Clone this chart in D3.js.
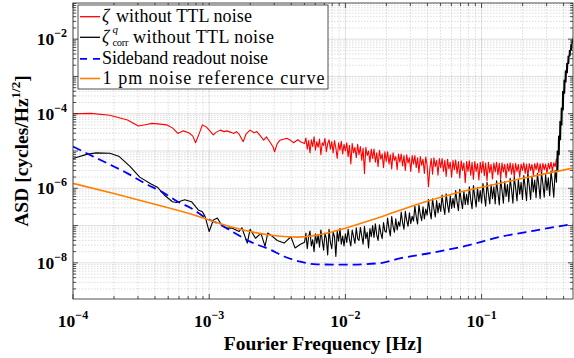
<!DOCTYPE html>
<html>
<head>
<meta charset="utf-8">
<script src="https://cdn.jsdelivr.net/npm/d3@7"></script>
<style>
body { margin: 0; background: #fff; }
svg { display: block; }
</style>
</head>
<body>
<script>
// all values are log10: frequency [Hz] and ASD [cycles/Hz^1/2]

// red: zeta without TTL noise, low frequency part
const redFreqLow = [-4.00,-3.87,-3.73,-3.60,-3.52,-3.46,-3.42,-3.36,-3.31,-3.27,-3.23,-3.19,-3.15,-3.12,-3.10,-3.07,-3.05,-3.02,-3.00,-2.97,-2.95,-2.92,-2.89,-2.87,-2.84,-2.82,-2.80,-2.78,-2.75,-2.73,-2.70,-2.67,-2.65,-2.63,-2.60,-2.58,-2.55,-2.53,-2.52,-2.50,-2.48,-2.45,-2.43,-2.40,-2.38,-2.35,-2.33];
const redAsdLow = [-4.00,-3.99,-4.04,-4.17,-4.33,-4.29,-4.26,-4.28,-4.30,-4.38,-4.53,-4.46,-4.51,-4.60,-4.78,-4.50,-4.30,-4.36,-4.44,-4.57,-4.50,-4.44,-4.48,-4.46,-4.50,-4.53,-4.48,-4.55,-4.75,-4.55,-4.44,-4.51,-4.48,-4.57,-4.71,-4.62,-4.78,-4.90,-5.02,-4.80,-4.71,-4.68,-4.66,-4.72,-4.78,-4.70,-4.75];

// black: zeta^q_corr without TTL noise, low frequency part
const blackFreqLow = [-4.00,-3.90,-3.83,-3.73,-3.66,-3.58,-3.51,-3.43,-3.38,-3.33,-3.27,-3.24,-3.18,-3.13,-3.08,-3.05,-3.03,-3.00,-2.97,-2.94,-2.91,-2.87,-2.83,-2.78,-2.76,-2.72,-2.70,-2.66,-2.62,-2.59,-2.57,-2.55,-2.50,-2.45,-2.40,-2.37,-2.33];
const blackAsdLow = [-5.20,-5.09,-5.05,-5.06,-5.15,-5.42,-5.70,-5.88,-5.97,-6.18,-6.36,-6.38,-6.31,-6.36,-6.58,-6.63,-6.76,-7.16,-6.85,-6.80,-6.98,-7.07,-7.07,-7.16,-7.06,-7.47,-7.10,-7.34,-7.21,-7.56,-7.20,-7.25,-7.40,-7.47,-7.30,-7.60,-7.50];

// shared frequency bins of the noisy high frequency part
const fineFreq = [
  -2.30,-2.29,-2.28,-2.27,-2.26,-2.25,-2.24,-2.23,-2.22,-2.21,
  -2.20,-2.19,-2.18,-2.17,-2.16,-2.15,-2.14,-2.13,-2.12,-2.11,
  -2.10,-2.09,-2.08,-2.07,-2.06,-2.05,-2.04,-2.03,-2.02,-2.01,
  -2.00,-1.99,-1.98,-1.97,-1.96,-1.95,-1.94,-1.93,-1.92,-1.91,
  -1.90,-1.89,-1.88,-1.87,-1.86,-1.85,-1.84,-1.83,-1.82,-1.81,
  -1.80,-1.79,-1.78,-1.77,-1.76,-1.75,-1.74,-1.73,-1.72,-1.71,
  -1.70,-1.69,-1.68,-1.67,-1.66,-1.65,-1.64,-1.63,-1.62,-1.61,
  -1.60,-1.59,-1.58,-1.57,-1.56,-1.55,-1.54,-1.53,-1.52,-1.51,
  -1.50,-1.49,-1.48,-1.47,-1.46,-1.45,-1.44,-1.43,-1.42,-1.41,
  -1.40,-1.39,-1.38,-1.37,-1.36,-1.35,-1.34,-1.33,-1.32,-1.31,
  -1.30,-1.29,-1.28,-1.27,-1.26,-1.25,-1.24,-1.23,-1.22,-1.21,
  -1.20,-1.19,-1.18,-1.17,-1.16,-1.15,-1.14,-1.13,-1.12,-1.11,
  -1.10,-1.09,-1.08,-1.07,-1.06,-1.05,-1.04,-1.03,-1.02,-1.01,
  -1.00,-0.99,-0.98,-0.97,-0.96,-0.95,-0.94,-0.93,-0.92,-0.91,
  -0.90,-0.89,-0.88,-0.87,-0.86,-0.85,-0.84,-0.83,-0.82,-0.81,
  -0.80,-0.79,-0.78,-0.77,-0.76,-0.75,-0.74,-0.73,-0.72,-0.71,
  -0.70,-0.69,-0.68,-0.67,-0.66,-0.65,-0.64,-0.63,-0.62,-0.61,
  -0.60,-0.59,-0.58,-0.57,-0.56,-0.55,-0.54,-0.53,-0.52,-0.51,
  -0.50,-0.49,-0.48,-0.47,-0.46,-0.45];

const redAsdFine = [
  -4.80,-4.65,-4.95,-4.72,-5.05,-4.70,-4.88,-4.62,-4.98,-4.75,
  -4.90,-4.68,-5.10,-4.78,-4.85,-4.66,-5.02,-4.80,-4.70,-4.95,
  -4.75,-5.05,-4.72,-4.92,-5.20,-4.78,-4.98,-4.74,-5.08,-4.82,
  -5.00,-4.78,-5.15,-4.85,-5.35,-4.80,-5.05,-4.90,-5.18,-4.82,
  -5.10,-4.88,-5.25,-4.92,-5.60,-4.90,-5.12,-5.00,-5.30,-4.95,
  -5.20,-4.95,-5.30,-5.05,-5.42,-4.98,-5.22,-5.08,-5.45,-5.02,
  -5.28,-5.02,-5.35,-5.10,-5.48,-5.05,-5.25,-5.15,-5.50,-5.08,
  -5.30,-5.08,-5.40,-5.12,-5.52,-5.10,-5.32,-5.18,-5.55,-5.12,
  -5.35,-5.12,-5.45,-5.18,-5.58,-5.15,-5.38,-5.22,-5.60,-5.16,
  -5.38,-5.96,-5.48,-5.20,-5.62,-5.18,-5.42,-5.25,-5.65,-5.20,
  -5.45,-5.20,-5.55,-5.25,-5.68,-5.22,-5.48,-5.30,-5.70,-5.25,
  -5.50,-5.24,-5.60,-5.28,-5.72,-5.26,-5.52,-5.32,-5.85,-5.28,
  -5.55,-5.26,-5.65,-5.30,-5.76,-5.28,-5.55,-5.34,-5.78,-5.30,
  -5.58,-5.28,-5.66,-5.32,-5.80,-5.30,-5.58,-5.36,-5.75,-5.32,
  -5.56,-5.30,-5.64,-5.33,-5.74,-5.32,-5.56,-5.36,-5.72,-5.34,
  -5.55,-5.32,-5.62,-5.34,-5.70,-5.33,-5.55,-5.36,-5.70,-5.35,
  -5.52,-5.32,-5.60,-5.35,-5.68,-5.34,-5.52,-5.36,-5.66,-5.34,
  -5.50,-5.32,-5.58,-5.34,-5.62,-5.33,-5.50,-5.35,-5.60,-5.33,
  -5.48,-5.30,-5.54,-5.32,-5.42,-5.20];

const blackAsdFine = [
  -7.45,-7.20,-7.62,-7.30,-7.15,-7.55,-7.38,-7.70,-7.22,-7.48,
  -7.25,-7.58,-7.12,-7.40,-7.66,-7.20,-7.35,-7.79,-7.10,-7.45,
  -7.62,-7.18,-7.30,-7.83,-7.15,-7.42,-7.08,-7.50,-7.28,-7.55,
  -7.22,-7.45,-7.10,-7.38,-7.55,-7.12,-7.30,-7.48,-7.06,-7.35,
  -7.40,-7.05,-7.28,-7.50,-7.02,-7.35,-7.18,-7.60,-7.08,-7.30,
  -7.00,-7.32,-6.95,-7.25,-7.40,-6.98,-7.20,-7.35,-6.92,-7.15,
  -7.18,-6.80,-7.08,-7.28,-6.76,-7.02,-7.18,-6.82,-7.12,-6.90,
  -7.02,-6.64,-6.92,-7.10,-6.62,-6.86,-7.02,-6.66,-6.95,-6.75,
  -6.88,-6.48,-6.76,-6.96,-6.45,-6.70,-6.87,-6.50,-6.82,-6.56,
  -6.72,-6.30,-6.62,-6.82,-6.28,-6.55,-6.77,-6.33,-6.66,-6.40,
  -6.62,-6.18,-6.50,-6.70,-6.15,-6.44,-6.65,-6.20,-6.54,-6.27,
  -6.52,-6.06,-6.38,-6.60,-6.03,-6.32,-6.55,-6.08,-6.44,-6.16,
  -6.44,-5.96,-6.30,-6.55,-5.93,-6.24,-6.50,-5.99,-6.36,-6.06,
  -6.40,-5.87,-6.20,-6.48,-5.84,-6.14,-6.42,-5.90,-6.28,-5.96,
  -6.42,-5.80,-6.12,-6.45,-5.77,-6.06,-6.40,-5.82,-6.22,-5.90,
  -6.36,-5.73,-6.04,-6.40,-5.70,-5.99,-6.34,-5.75,-6.16,-5.84,
  -6.30,-5.66,-5.98,-6.33,-5.63,-5.93,-6.30,-5.68,-6.10,-5.78,
  -6.25,-5.60,-5.92,-6.28,-5.57,-5.88,-6.24,-5.63,-6.05,-5.72,
  -6.20,-5.54,-5.86,-6.24,-5.52,-5.84];

// black: steep rise close to Nyquist
const blackFreqRise = [-0.445,-0.440,-0.435,-0.430,-0.425,-0.420,-0.415,-0.410,-0.405,-0.400,-0.395,-0.390,-0.385,-0.380,-0.375,-0.370,-0.365,-0.360,-0.355,-0.350,-0.345,-0.340,-0.335,-0.330,-0.325,-0.320];
const blackAsdRise = [-5.00,-5.55,-4.60,-5.10,-4.20,-4.70,-3.85,-4.30,-3.40,-3.90,-3.10,-3.45,-2.85,-3.15,-2.65,-2.90,-2.45,-2.65,-2.30,-2.45,-2.15,-2.28,-2.02,-2.10,-1.92,-1.98];

// blue dashed: sideband readout noise
const blueFreq = [-4.00,-3.85,-3.72,-3.60,-3.45,-3.35,-3.23,-3.11,-3.04,-2.94,-2.85,-2.70,-2.55,-2.45,-2.33,-2.21,-2.02,-1.75,-1.60,-1.35,-1.11,-0.87,-0.62,-0.33];
const blueAsd = [-4.88,-5.15,-5.38,-5.60,-5.91,-6.09,-6.36,-6.58,-6.76,-6.94,-7.12,-7.43,-7.65,-7.83,-7.97,-8.04,-8.05,-8.01,-7.88,-7.72,-7.54,-7.31,-7.14,-6.96];

// orange: 1 pm noise reference curve
const orangeFreq = [-4.00,-3.70,-3.40,-3.10,-2.90,-2.70,-2.50,-2.35,-2.20,-2.00,-1.80,-1.60,-1.40,-1.20,-1.00,-0.80,-0.60,-0.33];
const orangeAsd = [-5.87,-6.14,-6.43,-6.73,-6.97,-7.16,-7.28,-7.31,-7.25,-7.07,-6.84,-6.59,-6.35,-6.14,-5.97,-5.81,-5.66,-5.46];

const xMajor = [-4, -3, -2, -1];
const yMajor = [-8, -6, -4, -2];
const legendLabels = ['without TTL noise', 'without TTL noise', 'Sideband readout noise', '1 pm noise reference curve'];

const width = 574, height = 358;
const pL = 73, pR = 573, pT = 3, pB = 299;
const axisColor = '#262626';
const serif = '"Liberation Serif", "Times New Roman", serif';

const pairs = (f, a) => d3.zip(f, a).map(([u, v]) => [Math.pow(10, u), Math.pow(10, v)]);
const redData = pairs(redFreqLow.concat(fineFreq), redAsdLow.concat(redAsdFine));
const blackData = pairs(blackFreqLow.concat(fineFreq, blackFreqRise), blackAsdLow.concat(blackAsdFine, blackAsdRise));
const blueData = pairs(blueFreq, blueAsd);
const orangeData = pairs(orangeFreq, orangeAsd);

const x = d3.scaleLog().domain([1e-4, 0.469]).range([pL, pR]);
const y = d3.scaleLog().domain([Math.pow(10, -8.97), Math.pow(10, -1.03)]).range([pB, pT]);

const svg = d3.select('body').append('svg')
    .attr('width', width)
    .attr('height', height);

svg.append('rect').attr('x', pL).attr('y', pT)
    .attr('width', pR - pL).attr('height', pB - pT)
    .attr('fill', '#fff');

// grid values
const xMinor = [], yMinor = [];
for (let k = -4; k <= -1; k++) for (let m = 2; m <= 9; m++) {
    const v = m * Math.pow(10, k);
    if (v < x.domain()[1]) xMinor.push(v);
}
for (let k = -9; k <= -2; k++) for (let m = 2; m <= 9; m++) {
    const v = m * Math.pow(10, k);
    if (v > y.domain()[0] && v < y.domain()[1]) yMinor.push(v);
}
const xMaj = xMajor.map(e => Math.pow(10, e));
const yMaj = d3.range(-8, -1).map(e => Math.pow(10, e));

const grid = svg.append('g');
grid.selectAll('.vminor').data(xMinor).enter().append('line')
    .attr('x1', d => x(d)).attr('x2', d => x(d)).attr('y1', pT).attr('y2', pB)
    .attr('stroke', axisColor).attr('stroke-opacity', 0.22).attr('stroke-width', 0.7)
    .attr('stroke-dasharray', '1.5,1.5');
grid.selectAll('.hminor').data(yMinor).enter().append('line')
    .attr('y1', d => y(d)).attr('y2', d => y(d)).attr('x1', pL).attr('x2', pR)
    .attr('stroke', axisColor).attr('stroke-opacity', 0.22).attr('stroke-width', 0.7)
    .attr('stroke-dasharray', '1.5,1.5');
grid.selectAll('.vmajor').data(xMaj).enter().append('line')
    .attr('x1', d => x(d)).attr('x2', d => x(d)).attr('y1', pT).attr('y2', pB)
    .attr('stroke', axisColor).attr('stroke-opacity', 0.18).attr('stroke-width', 0.8);
grid.selectAll('.hmajor').data(yMaj).enter().append('line')
    .attr('y1', d => y(d)).attr('y2', d => y(d)).attr('x1', pL).attr('x2', pR)
    .attr('stroke', axisColor).attr('stroke-opacity', 0.18).attr('stroke-width', 0.8);

// curves
svg.append('clipPath').attr('id', 'plot-clip')
    .append('rect').attr('x', pL).attr('y', pT)
    .attr('width', pR - pL).attr('height', pB - pT);

const line = d3.line().x(d => x(d[0])).y(d => y(d[1]));
const smooth = d3.line().curve(d3.curveMonotoneX).x(d => x(d[0])).y(d => y(d[1]));
const curves = svg.append('g').attr('clip-path', 'url(#plot-clip)');
curves.append('path').datum(redData).attr('d', line)
    .attr('fill', 'none').attr('stroke', '#ff0000').attr('stroke-width', 1.1).attr('stroke-linejoin', 'round');
curves.append('path').datum(blackData).attr('d', line)
    .attr('fill', 'none').attr('stroke', '#000').attr('stroke-width', 1.1).attr('stroke-linejoin', 'round');
curves.append('path').datum(blueData).attr('d', smooth)
    .attr('fill', 'none').attr('stroke', '#0000ff').attr('stroke-width', 1.8).attr('stroke-dasharray', '9,5');
curves.append('path').datum(orangeData).attr('d', smooth)
    .attr('fill', 'none').attr('stroke', '#ff8000').attr('stroke-width', 1.6);

// axes box with inward ticks on all sides
const ax = svg.append('g').attr('stroke', axisColor).attr('stroke-width', 0.8);
ax.append('rect').attr('x', pL).attr('y', pT)
    .attr('width', pR - pL).attr('height', pB - pT).attr('fill', 'none');
xMinor.forEach(v => {
    ax.append('line').attr('x1', x(v)).attr('x2', x(v)).attr('y1', pB).attr('y2', pB - 3);
    ax.append('line').attr('x1', x(v)).attr('x2', x(v)).attr('y1', pT).attr('y2', pT + 3);
});
xMaj.forEach(v => {
    ax.append('line').attr('x1', x(v)).attr('x2', x(v)).attr('y1', pB).attr('y2', pB - 5);
    ax.append('line').attr('x1', x(v)).attr('x2', x(v)).attr('y1', pT).attr('y2', pT + 5);
});
yMinor.forEach(v => {
    ax.append('line').attr('y1', y(v)).attr('y2', y(v)).attr('x1', pL).attr('x2', pL + 3);
    ax.append('line').attr('y1', y(v)).attr('y2', y(v)).attr('x1', pR).attr('x2', pR - 3);
});
yMaj.forEach(v => {
    ax.append('line').attr('y1', y(v)).attr('y2', y(v)).attr('x1', pL).attr('x2', pL + 5);
    ax.append('line').attr('y1', y(v)).attr('y2', y(v)).attr('x1', pR).attr('x2', pR - 5);
});

// tick labels
const xl = svg.append('g').attr('font-family', serif).attr('font-weight', 'bold').attr('fill', '#000');
xMajor.forEach(e => {
    const t = xl.append('text').attr('x', x(Math.pow(10, e))).attr('y', 327)
        .attr('text-anchor', 'middle').attr('font-size', 17.5);
    t.append('tspan').text('10');
    t.append('tspan').attr('dy', -8).attr('font-size', 12).text('\u2212' + (-e));
});
yMajor.forEach(e => {
    const t = xl.append('text').attr('x', 67).attr('y', y(Math.pow(10, e)) + 6)
        .attr('text-anchor', 'end').attr('font-size', 17.5);
    t.append('tspan').text('10');
    t.append('tspan').attr('dy', -8).attr('font-size', 12).text('\u2212' + (-e));
});

// axis titles
xl.append('text').attr('x', (pL + pR) / 2).attr('y', 350)
    .attr('text-anchor', 'middle').attr('font-size', 19.5)
    .text('Fourier Frequency [Hz]');
const yt = xl.append('text')
    .attr('transform', `translate(28,${(pT + pB) / 2}) rotate(-90)`)
    .attr('text-anchor', 'middle').attr('font-size', 19.5);
yt.append('tspan').text('ASD [cycles/Hz');
yt.append('tspan').attr('dy', -8).attr('font-size', 13).text('1/2');
yt.append('tspan').attr('dy', 8).text(']');

// legend
const lg = svg.append('g');
lg.append('rect').attr('x', 78).attr('y', 5).attr('width', 250).attr('height', 84)
    .attr('fill', '#fff').attr('stroke', axisColor).attr('stroke-width', 0.8);
const rowY = [16.7, 37.3, 58.8, 78.5];
const legendStyles = [
    { color: '#ff0000', dash: null, w: 1.3 },
    { color: '#000', dash: null, w: 1.3 },
    { color: '#0000ff', dash: '7,6', w: 1.8 },
    { color: '#ff8000', dash: null, w: 1.6 }
];
legendStyles.forEach((s, i) => {
    lg.append('line').attr('x1', 80).attr('x2', 100).attr('y1', rowY[i]).attr('y2', rowY[i])
        .attr('stroke', s.color).attr('stroke-width', s.w).attr('stroke-dasharray', s.dash);
});
const lt = lg.append('g').attr('font-family', serif).attr('font-size', 18).attr('fill', '#000');
// row 1
lt.append('text').attr('x', 102).attr('y', rowY[0] + 5.5).attr('font-style', 'italic').text('\u03b6');
lt.append('text').attr('x', 116).attr('y', rowY[0] + 5.5)
    .attr('textLength', 136).attr('lengthAdjust', 'spacing').text(legendLabels[0]);
// row 2: zeta with superscript q and subscript corr
lt.append('text').attr('x', 102).attr('y', rowY[1] + 5.5).attr('font-style', 'italic').text('\u03b6');
lt.append('text').attr('x', 112.5).attr('y', rowY[1] - 4).attr('font-size', 11)
    .attr('font-style', 'italic').text('q');
lt.append('text').attr('x', 112.5).attr('y', rowY[1] + 9).attr('font-size', 10.5)
    .attr('textLength', 16).attr('lengthAdjust', 'spacing').text('corr');
lt.append('text').attr('x', 133).attr('y', rowY[1] + 5.5)
    .attr('textLength', 141).attr('lengthAdjust', 'spacing').text(legendLabels[1]);
lt.append('text').attr('x', 102).attr('y', rowY[2] + 5.5)
    .attr('textLength', 166).attr('lengthAdjust', 'spacing').text(legendLabels[2]);
lt.append('text').attr('x', 102.5).attr('y', rowY[3] + 5.5)
    .attr('textLength', 222).attr('lengthAdjust', 'spacing').text(legendLabels[3]);
</script>
</body>
</html>
